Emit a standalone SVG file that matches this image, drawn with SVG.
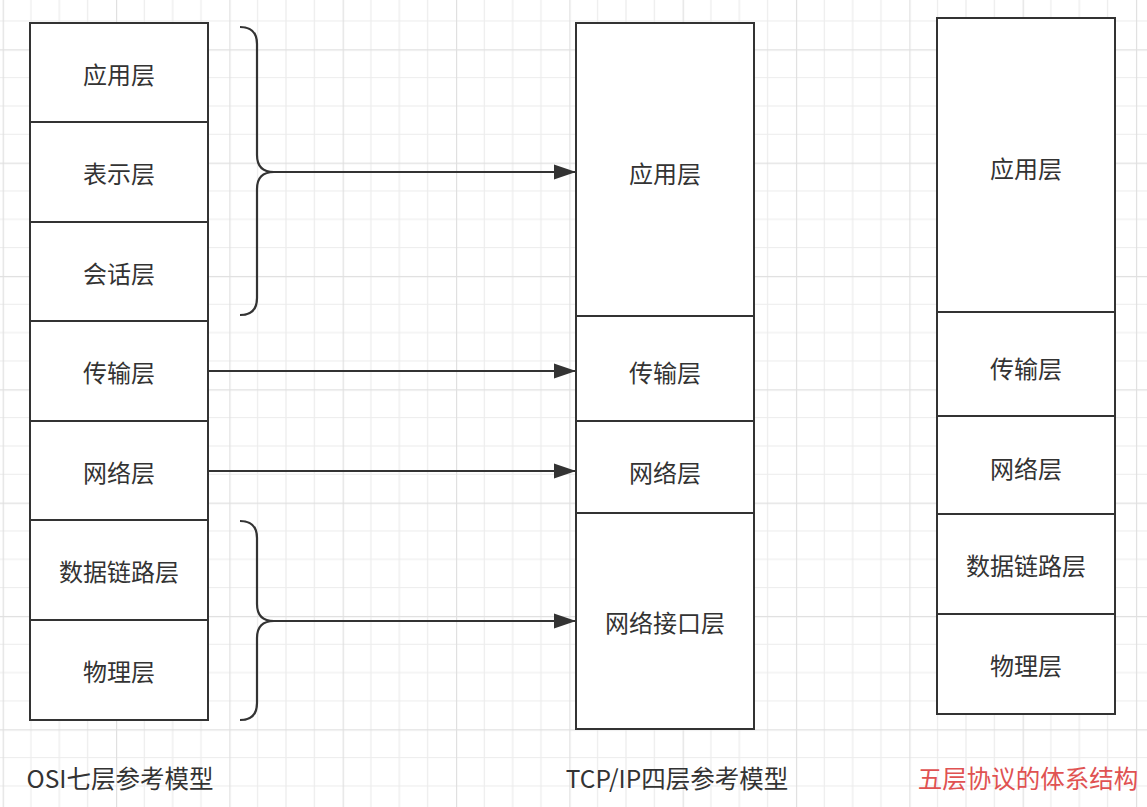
<svg xmlns="http://www.w3.org/2000/svg" width="1147" height="807" viewBox="0 0 1147 807">
<style>
.box{fill:#fff;stroke:#333;stroke-width:2}
.t{font-family:"Noto Sans CJK SC","Noto Sans",sans-serif;font-size:24px;fill:#333;text-anchor:middle;dominant-baseline:central}
.lbl{font-family:"Noto Sans CJK SC","Noto Sans",sans-serif;font-size:24.5px;fill:#333;text-anchor:middle;dominant-baseline:central}
.red{fill:#e05252}
.c{fill:none;stroke:#333;stroke-width:2.2}
</style>
<defs>
<pattern id="grid" patternUnits="userSpaceOnUse" x="2.67" y="49.3" width="113.33" height="113.33">
<path d="M28.33,0V113.33M56.67,0V113.33M85,0V113.33M0,28.33H113.33M0,56.67H113.33M0,85H113.33" stroke="#ececec" stroke-width="1.2" fill="none"/>
<path d="M0.5,0V113.33M0,0.5H113.33" stroke="#e0e0e0" stroke-width="1.4" fill="none"/>
</pattern>
<marker id="arr" markerUnits="userSpaceOnUse" markerWidth="24" markerHeight="16" refX="22" refY="8" orient="auto">
<path d="M0,0.5L22,8L0,15.5Z" fill="#333"/>
</marker>
</defs>
<rect width="1147" height="807" fill="#fff"/>
<rect width="1147" height="807" fill="url(#grid)"/>

<g id="osi">
<g id="osi-app"><rect class="box" x="30" y="23" width="178" height="99"/><text class="t" x="119" y="73">应用层</text></g>
<g id="osi-pres"><rect class="box" x="30" y="122" width="178" height="100"/><text class="t" x="119" y="172">表示层</text></g>
<g id="osi-sess"><rect class="box" x="30" y="222" width="178" height="99"/><text class="t" x="119" y="272">会话层</text></g>
<g id="osi-trans"><rect class="box" x="30" y="321" width="178" height="100"/><text class="t" x="119" y="371">传输层</text></g>
<g id="osi-net"><rect class="box" x="30" y="421" width="178" height="99"/><text class="t" x="119" y="471">网络层</text></g>
<g id="osi-link"><rect class="box" x="30" y="520" width="178" height="100"/><text class="t" x="119" y="570">数据链路层</text></g>
<g id="osi-phy"><rect class="box" x="30" y="620" width="178" height="100"/><text class="t" x="119" y="670">物理层</text></g>
</g>

<g id="tcp">
<g id="tcp-app"><rect class="box" x="576" y="23" width="178" height="293"/><text class="t" x="665" y="172">应用层</text></g>
<g id="tcp-trans"><rect class="box" x="576" y="316" width="178" height="105"/><text class="t" x="665" y="371">传输层</text></g>
<g id="tcp-net"><rect class="box" x="576" y="421" width="178" height="92"/><text class="t" x="665" y="471">网络层</text></g>
<g id="tcp-if"><rect class="box" x="576" y="513" width="178" height="216"/><text class="t" x="665" y="621">网络接口层</text></g>
</g>

<g id="five">
<g id="five-app"><rect class="box" x="937" y="18" width="178" height="294"/><text class="t" x="1026" y="167">应用层</text></g>
<g id="five-trans"><rect class="box" x="937" y="312" width="178" height="104"/><text class="t" x="1026" y="367">传输层</text></g>
<g id="five-net"><rect class="box" x="937" y="416" width="178" height="98"/><text class="t" x="1026" y="467">网络层</text></g>
<g id="five-link"><rect class="box" x="937" y="514" width="178" height="100"/><text class="t" x="1026" y="564">数据链路层</text></g>
<g id="five-phy"><rect class="box" x="937" y="614" width="178" height="100"/><text class="t" x="1026" y="664">物理层</text></g>
</g>

<g id="connectors">
<path class="c" d="M240,27 Q257,27 257,44 V155 Q257,172 274,172 Q257,172 257,189 V298 Q257,315 240,315"/>
<path class="c" d="M274,172 H576" marker-end="url(#arr)"/>
<path class="c" d="M240,521 Q257,521 257,538 V604 Q257,621 274,621 Q257,621 257,638 V703 Q257,720 240,720"/>
<path class="c" d="M274,621 H576" marker-end="url(#arr)"/>
<path class="c" d="M208,371 H576" marker-end="url(#arr)"/>
<path class="c" d="M208,471 H576" marker-end="url(#arr)"/>
</g>

<g id="labels">
<text class="lbl" x="120" y="777">OSI七层参考模型</text>
<text class="lbl" x="677" y="777">TCP/IP四层参考模型</text>
<text class="lbl red" x="1028" y="777">五层协议的体系结构</text>
</g>
</svg>
